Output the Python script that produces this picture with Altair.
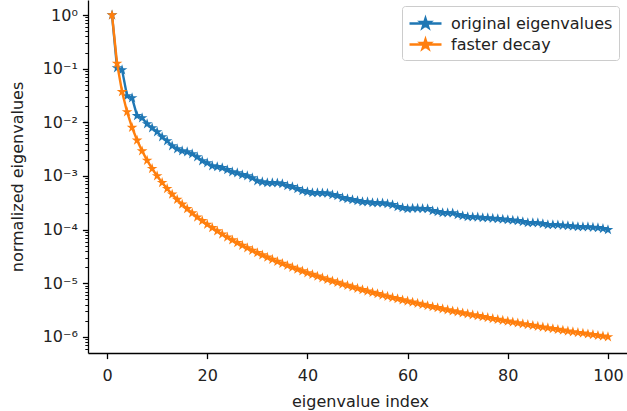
import altair as alt
import pandas as pd

# ---- data ----
eigen_index = list(range(1, 101))

original_eigenvalues = [
    1.0, 0.103, 0.095, 0.031, 0.0285, 0.0132, 0.0121, 0.00934, 0.00787, 0.00663,
    0.00535, 0.00451, 0.00364, 0.0032, 0.00293, 0.00281, 0.00258, 0.00227, 0.00191, 0.00175,
    0.00154, 0.00148, 0.00142, 0.0013, 0.00119, 0.00114, 0.00105, 0.001, 0.00092, 0.00081,
    0.000776, 0.000744, 0.000744, 0.00074, 0.000713, 0.000655, 0.000627, 0.000575, 0.000528, 0.000506,
    0.000485, 0.000485, 0.00048, 0.000475, 0.000445, 0.000426, 0.000391, 0.000375, 0.000359, 0.000344,
    0.00033, 0.000328, 0.000316, 0.000314, 0.000312, 0.000302, 0.00029, 0.000266, 0.000255, 0.000244,
    0.00025, 0.000248, 0.000246, 0.000244, 0.000224, 0.000215, 0.000206, 0.000205, 0.000204, 0.000189,
    0.000181, 0.000173, 0.000172, 0.000171, 0.000166, 0.000165, 0.000162, 0.000159, 0.000156, 0.000152,
    0.000149, 0.000146, 0.00014, 0.000134, 0.000134, 0.000133, 0.000128, 0.000123, 0.000123, 0.000122,
    0.00012, 0.000118, 0.000115, 0.000113, 0.000112, 0.000112, 0.00011, 0.000108, 0.000104, 0.000099,
]

faster_decay = [
    1.0, 0.125, 0.037, 0.0156, 0.008, 0.00463, 0.00292, 0.00195, 0.00137, 0.001,
    7.51e-4, 5.79e-4, 4.55e-4, 3.64e-4, 2.96e-4, 2.44e-4, 2.04e-4, 1.71e-4, 1.46e-4, 1.25e-4,
    1.08e-4, 9.39e-5, 8.22e-5, 7.23e-5, 6.4e-5, 5.69e-5, 5.08e-5, 4.56e-5, 4.10e-5, 3.70e-5,
    3.36e-5, 3.05e-5, 2.78e-5, 2.54e-5, 2.33e-5, 2.14e-5, 1.97e-5, 1.82e-5, 1.69e-5, 1.56e-5,
    1.45e-5, 1.35e-5, 1.26e-5, 1.17e-5, 1.10e-5, 1.03e-5, 9.63e-6, 9.04e-6, 8.50e-6, 8.0e-6,
    7.54e-6, 7.11e-6, 6.72e-6, 6.35e-6, 6.01e-6, 5.69e-6, 5.40e-6, 5.13e-6, 4.87e-6, 4.63e-6,
    4.41e-6, 4.20e-6, 4.00e-6, 3.81e-6, 3.64e-6, 3.48e-6, 3.32e-6, 3.18e-6, 3.04e-6, 2.92e-6,
    2.79e-6, 2.68e-6, 2.57e-6, 2.47e-6, 2.37e-6, 2.28e-6, 2.19e-6, 2.11e-6, 2.03e-6, 1.95e-6,
    1.88e-6, 1.81e-6, 1.75e-6, 1.69e-6, 1.63e-6, 1.57e-6, 1.52e-6, 1.47e-6, 1.42e-6, 1.37e-6,
    1.33e-6, 1.28e-6, 1.24e-6, 1.20e-6, 1.17e-6, 1.13e-6, 1.10e-6, 1.06e-6, 1.03e-6, 1.0e-6,
]

series_names = ["original eigenvalues", "faster decay"]
series_colors = ["#1f77b4", "#ff7f0e"]

x_tick_values = [0, 20, 40, 60, 80, 100]
y_major_values = [1e-6, 1e-5, 1e-4, 1e-3, 1e-2, 1e-1, 1.0]

# ---- helpers ----
Y_MIN, Y_MAX = 5.01e-7, 1.905
y_minor_values = [m * 10.0 ** e for e in range(-7, 1) for m in range(2, 10)
                  if Y_MIN <= m * 10.0 ** e <= Y_MAX]
y_tick_values = sorted(y_major_values + y_minor_values)

df = pd.concat([
    pd.DataFrame({"index": eigen_index, "value": original_eigenvalues, "series": series_names[0]}),
    pd.DataFrame({"index": eigen_index, "value": faster_decay, "series": series_names[1]}),
], ignore_index=True)

STAR = ("M0,-1L0.225,-0.309L0.951,-0.309L0.363,0.118L0.588,0.809L0,0.382"
        "L-0.588,0.809L-0.363,0.118L-0.951,-0.309L-0.225,-0.309Z")
LEGEND_SYMBOL = ("M-1.6,0L1.6,0M0,-0.5L0.112,-0.155L0.476,-0.155L0.182,0.059"
                 "L0.294,0.405L0,0.191L-0.294,0.405L-0.182,0.059L-0.476,-0.155L-0.112,-0.155Z")

FONT = "DejaVu Sans"
TXT = "#222222"
FS = 16
IS_MAJOR = "abs(log(datum.value)/LN10 - round(log(datum.value)/LN10)) < 0.001"
SUP = "['\u2070','\u207b\u00b9','\u207b\u00b2','\u207b\u00b3','\u207b\u2074','\u207b\u2075','\u207b\u2076']"
Y_LABEL = f"{IS_MAJOR} ? '10' + {SUP}[-round(log(datum.value)/LN10)] : ''"

x_enc = alt.X(
    "index:Q",
    scale=alt.Scale(domain=[-3.8, 103.8], nice=False, zero=False),
    axis=alt.Axis(
        values=x_tick_values, title="eigenvalue index", grid=False,
        domainColor="black", domainWidth=1.3, tickColor="black", tickWidth=1.3,
        tickSize=5.6, labelPadding=9, labelFont=FONT, labelFontSize=FS, labelColor=TXT,
        titleFont=FONT, titleFontSize=FS, titleFontWeight="normal", titleColor=TXT,
        titlePadding=10, titleX=272, labelOverlap=False,
    ),
)

y_enc = alt.Y(
    "value:Q",
    scale=alt.Scale(type="log", domain=[Y_MIN, Y_MAX], nice=False),
    axis=alt.Axis(
        values=y_tick_values, title="normalized eigenvalues", grid=False,
        labelExpr=Y_LABEL, labelOverlap=False,
        domainColor="black", domainWidth=1.3, tickColor="black",
        tickWidth={"condition": {"test": IS_MAJOR, "value": 1.3}, "value": 0.95},
        tickSize={"condition": {"test": IS_MAJOR, "value": 5.6}, "value": 3.2},
        labelPadding=5, labelFont=FONT, labelFontSize=FS, labelColor=TXT,
        titleFont=FONT, titleFontSize=FS, titleFontWeight="normal", titleColor=TXT,
        titlePadding=17,
    ),
)

color_enc = alt.Color(
    "series:N",
    scale=alt.Scale(domain=series_names, range=series_colors),
    legend=alt.Legend(
        title=None, orient="none", legendX=314, legendY=6,
        symbolType=LEGEND_SYMBOL, symbolSize=400, symbolStrokeWidth=2.4,
        symbolOffset=6, labelOffset=14, labelLimit=400,
        labelFont=FONT, labelFontSize=FS, labelColor=TXT,
        strokeColor="#cccccc", fillColor="white", cornerRadius=3,
        padding=6, rowPadding=0,
    ),
)

layers = []
for name in series_names:
    b = alt.Chart(df).transform_filter(alt.datum.series == name)
    layers.append(b.mark_line(strokeWidth=2.4).encode(x=x_enc, y=y_enc, color=color_enc))
    layers.append(b.mark_point(shape=STAR, filled=True, size=125, opacity=1).encode(
        x=x_enc, y=y_enc, color=color_enc))

chart = alt.layer(*layers).properties(
    width=539, height=353,
    padding={"left": 88, "top": 0, "right": 0, "bottom": 58},
    autosize=alt.AutoSizeParams(type="none"),
).configure_view(stroke="transparent")

chart.save("out.html", embed_options={"renderer": "svg", "actions": False})
